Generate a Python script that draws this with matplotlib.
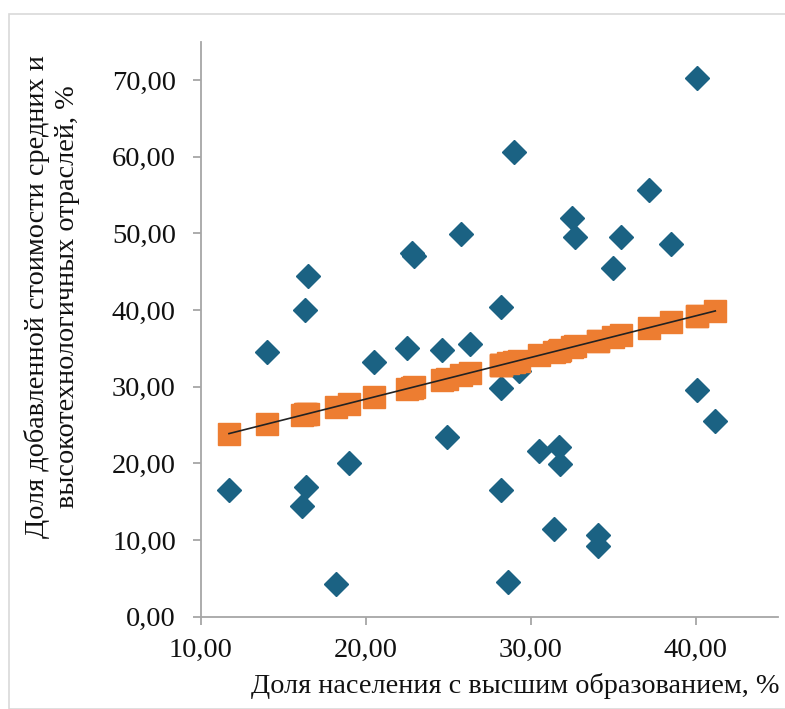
import matplotlib.pyplot as plt
from matplotlib.patches import Rectangle
from matplotlib.ticker import FuncFormatter

# доля населения с высшим образованием, %
edu = [11.7, 14.0, 16.1, 16.3, 16.4, 16.5, 18.2, 19.0, 20.5, 22.5,
       22.8, 22.9, 24.6, 24.9, 25.8, 26.3, 28.2, 28.2, 28.2, 28.6,
       29.0, 29.3, 30.5, 31.4, 31.7, 31.8, 32.5, 32.7, 34.1, 34.1,
       35.0, 35.5, 37.2, 38.5, 40.1, 40.1, 41.2]

# фактическая доля добавленной стоимости, %
actual = [16.6, 34.5, 14.5, 40.0, 16.9, 44.4, 4.3, 20.0, 33.2, 35.1,
          47.5, 47.0, 34.8, 23.4, 49.9, 35.6, 40.4, 29.9, 16.5, 4.6,
          60.6, 32.0, 21.6, 11.4, 22.1, 19.9, 52.0, 49.5, 10.7, 9.3,
          45.5, 49.6, 55.7, 48.6, 70.3, 29.6, 25.5]

# предсказанные значения (линия тренда)
predicted = [23.9, 25.1, 26.3, 26.4, 26.4, 26.5, 27.4, 27.8, 28.7, 29.7,
             29.9, 30.0, 30.9, 31.0, 31.5, 31.8, 32.8, 32.8, 32.8, 33.1,
             33.3, 33.4, 34.1, 34.6, 34.7, 34.8, 35.2, 35.3, 36.0, 36.0,
             36.5, 36.8, 37.7, 38.4, 39.3, 39.3, 39.9]

xticks = [10, 20, 30, 40]
yticks = [0, 10, 20, 30, 40, 50, 60, 70]

plt.rcParams['font.family'] = ['Liberation Serif', 'DejaVu Serif']

fig = plt.figure(figsize=(7.85, 7.09), dpi=100)
ax = fig.add_axes([0.256, 0.130, 0.735, 0.811])

ax.plot(edu, actual, linestyle='none', marker='D', markersize=11.8,
        color='#1b6283', zorder=2)
ax.plot(edu, predicted, linestyle='none', marker='s', markersize=16,
        color='#ed7d31', zorder=3)
ax.plot([edu[0], edu[-1]], [predicted[0], predicted[-1]], color='#222222',
        linewidth=1.2, zorder=4)

ax.set_xlim(10, 45)
ax.set_ylim(0, 75)
ax.set_xticks(xticks)
ax.set_yticks(yticks)
fmt = FuncFormatter(lambda v, p: ('%.2f' % v).replace('.', ','))
ax.xaxis.set_major_formatter(fmt)
ax.yaxis.set_major_formatter(fmt)

for side in ['top', 'right']:
    ax.spines[side].set_visible(False)
for side in ['left', 'bottom']:
    ax.spines[side].set_color('#a6a6a6')
    ax.spines[side].set_linewidth(1.3)
ax.tick_params(axis='both', color='#a6a6a6', width=1.3, length=6,
               labelsize=20.5, labelcolor='#111111')
ax.tick_params(axis='y', pad=12)
ax.tick_params(axis='x', pad=9)

fig.text(515 / 785, 1 - 686 / 709, 'Доля населения с высшим образованием, %',
         ha='center', va='center', fontsize=20.3, color='#111111')
fig.text(52 / 785, 1 - 297 / 709,
         'Доля добавленной стоимости средних и\nвысокотехнологичных отраслей, %',
         ha='center', va='center', rotation=90, fontsize=20.3,
         color='#111111', multialignment='center', linespacing=1.25)

# светлая рамка вокруг рисунка
fig.patches.append(Rectangle((9 / 785, 0), 1.0, 1 - 14 / 709,
                             transform=fig.transFigure, fill=False,
                             edgecolor='#d9d9d9', linewidth=1.2))

fig.savefig('out.png', dpi=100)
